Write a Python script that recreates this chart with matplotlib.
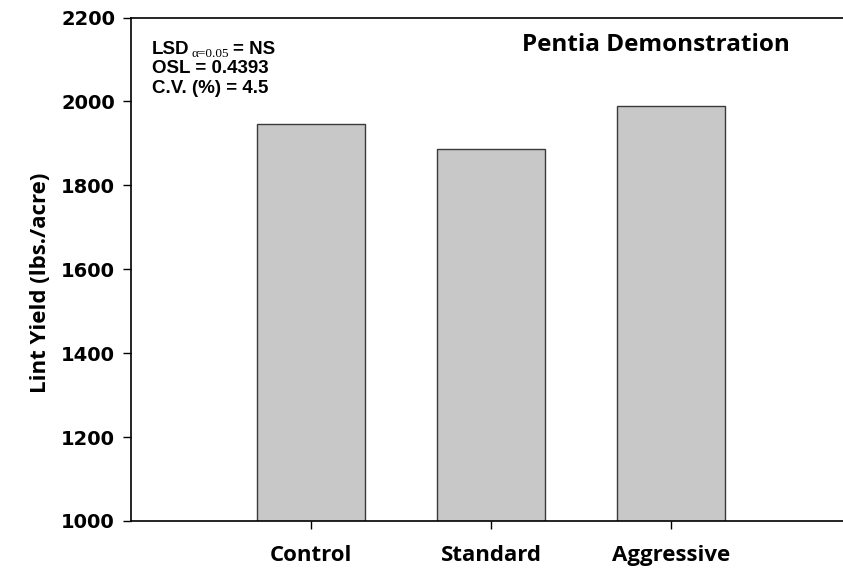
import matplotlib
matplotlib.use("Agg")
import matplotlib.pyplot as plt

categories = ["Control", "Standard", "Aggressive"]
yields = [1945, 1886, 1989]
y_ticks = [1000, 1200, 1400, 1600, 1800, 2000, 2200]

W, H = 843, 573
fig = plt.figure(figsize=(W / 100, H / 100), dpi=100)
ax = fig.add_axes([131 / W, 52 / H, 720 / W, 503.5 / H])

hum = ["Open Sans", "DejaVu Sans"]

x = [1, 2, 3]
ax.bar(x, yields, width=0.6, color="#c8c8c8", edgecolor="#3a3a3a", linewidth=1.0, zorder=2)
ax.set_xlim(0, 4)
ax.set_ylim(1000, 2200)
ax.set_yticks(y_ticks)
ax.set_yticklabels([str(t) for t in y_ticks], fontsize=14, fontweight="bold", family="DejaVu Sans")
ax.set_xticks(x)
ax.set_xticklabels(categories, fontsize=16, fontweight="bold", family=hum)
ax.tick_params(axis="both", direction="out", length=5.5, width=1, colors="black")
ax.tick_params(axis="x", pad=12)
ax.tick_params(axis="y", pad=6)
for s in ["left", "bottom", "top"]:
    ax.spines[s].set_linewidth(1.2)
ax.spines["right"].set_visible(False)

ax.set_ylabel("Lint Yield (lbs./acre)", fontsize=16, fontweight="bold", family=hum)
ax.yaxis.set_label_coords((51 - 131) / 720, 0.474)

ax.text((656 - 131) / 720, (521 - 45) / 503.5, "Pentia Demonstration", transform=ax.transAxes,
        fontsize=17.5, fontweight="bold", family=hum, va="center", ha="center")

# statistics annotation
def fx(px):
    return px / W

def fy(py):
    return 1 - py / H

ann_font = dict(fontsize=13.5, fontweight="bold", family="Liberation Sans", va="baseline", ha="left")
t1 = fig.text(fx(152), fy(54), "LSD", **ann_font)
fig.text(fx(152), fy(73), "OSL = 0.4393", **ann_font)
fig.text(fx(152), fy(93), "C.V. (%) = 4.5", **ann_font)
fig.canvas.draw()
r = fig.canvas.get_renderer()
e1 = t1.get_window_extent(r)
sub = fig.text((e1.x1 + 2) / W, fy(57), "\u03b1=0.05", fontsize=9.5, family="Liberation Serif",
               va="baseline", ha="left")
fig.canvas.draw()
e2 = sub.get_window_extent(r)
fig.text((e2.x1 + 4) / W, fy(54), "= NS", **ann_font)

fig.savefig("out.png", dpi=100)
